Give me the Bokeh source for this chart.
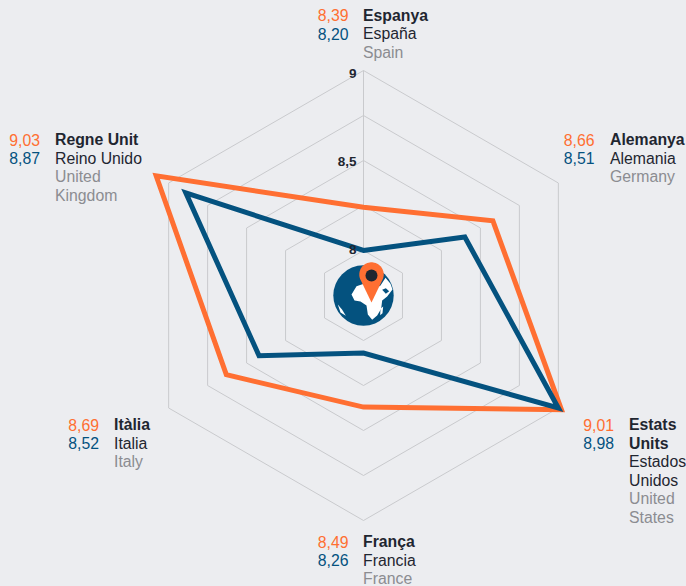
import numpy as np
from bokeh.plotting import figure
from bokeh.models import Range1d
from bokeh.core.properties import value
from bokeh.embed import file_html
from bokeh.resources import INLINE

countries_ca = ["Espanya", "Alemanya", "Estats Units", "França", "Itàlia", "Regne Unit"]
orange_labels = ["8,39", "8,66", "9,01", "8,49", "8,69", "9,03"]
blue_labels = ["8,20", "8,51", "8,98", "8,26", "8,52", "8,87"]
# positions read against the rings of the picture
orange_values = [8.24, 8.58, 9.02, 8.37, 8.63, 9.08]
blue_values = [8.00, 8.40, 9.00, 8.07, 8.42, 8.89]
ring_levels = [8, 8.25, 8.5, 8.75, 9]
tick_labels = [(8, "8"), (8.5, "8,5"), (9, "9")]

blocks = [
    (348, 362.5, 14.5, "8,39", "8,20", ["Espanya"], ["España"], ["Spain"]),
    (594, 609.5, 139, "8,66", "8,51", ["Alemanya"], ["Alemania"], ["Germany"]),
    (613.5, 628.5, 424, "9,01", "8,98", ["Estats", "Units"], ["Estados", "Unidos"], ["United", "States"]),
    (348, 362.5, 541, "8,49", "8,26", ["França"], ["Francia"], ["France"]),
    (98.5, 113.5, 424, "8,69", "8,52", ["Itàlia"], ["Italia"], ["Italy"]),
    (39.5, 54.5, 139, "9,03", "8,87", ["Regne Unit"], ["Reino Unido"], ["United", "Kingdom"]),
]

ORANGE, BLUE, DARK, GREY, RING, BG = "#ff6f32", "#04527f", "#1f2630", "#8b8c91", "#c9cacd", "#ecedf0"
CX, CY = 363.0, 295.0
FONT = value("Liberation Sans")
SIZE = "15.8px"
LINE = 18.55
angles = np.radians([90, 30, -30, -90, -150, 150])


def radius(v):
    return 45 + (np.asarray(v, dtype=float) - 8) * 180


def polar(values):
    r = radius(values)
    return list(CX + r * np.cos(angles)), list(CY - r * np.sin(angles))


p = figure(width=686, height=586, output_backend="svg", toolbar_location=None,
           x_range=Range1d(0, 686), y_range=Range1d(586, 0), min_border=0)
p.xaxis.visible = False
p.yaxis.visible = False
p.xgrid.visible = False
p.ygrid.visible = False
p.outline_line_color = None
p.background_fill_color = BG
p.border_fill_color = BG

for lv in ring_levels:
    x, y = polar([lv] * 6)
    p.patch(x, y, fill_color=None, line_color=RING, line_width=1)
xi, yi = polar([ring_levels[0]] * 6)
xo, yo = polar([ring_levels[-1]] * 6)
p.segment(xi[:1], yi[:1], xo[:1], yo[:1], line_color=RING, line_width=1)

for vals, col in ((orange_values, ORANGE), (blue_values, BLUE)):
    x, y = polar(vals)
    p.patch(x, y, fill_color=None, line_color=col, line_width=5, line_join="miter")

# ring tick labels
for lv, lab in tick_labels:
    p.text([356], [CY - 45 - (lv - 8) * 176 - 1], text=[lab], text_font=FONT, text_font_size="13.5px",
           text_font_style="bold", text_color=DARK, text_align="right", text_baseline="middle")

# text blocks
for vx, nx, y0, ov, bv, ca, es, en in blocks:
    p.text([vx], [y0], text=[ov], text_font=FONT, text_font_size=SIZE, text_color=ORANGE,
           text_align="right", text_baseline="middle")
    p.text([vx], [y0 + LINE], text=[bv], text_font=FONT, text_font_size=SIZE, text_color=BLUE,
           text_align="right", text_baseline="middle")
    row = 0
    for lines, col, style in ((ca, DARK, "bold"), (es, DARK, "normal"), (en, GREY, "normal")):
        for t in lines:
            p.text([nx], [y0 + row * LINE], text=[t], text_font=FONT, text_font_size=SIZE,
                   text_font_style=style, text_color=col, text_align="left", text_baseline="middle")
            row += 1

# globe icon
p.circle([CX], [295], radius=30.2, fill_color=BLUE, line_color=None)


def z(pts):
    a = np.array(pts, dtype=float)
    return list(a[:, 0] / 3 + 280), list(a[:, 1] / 3 + 220)


africa = [(213, 222), (228, 197), (250, 190), (275, 210), (300, 195), (315, 172), (330, 190), (336, 207),
          (320, 228), (305, 240), (302, 265), (290, 285), (275, 298), (262, 282), (258, 255), (240, 243), (222, 240)]
madagascar = [(300, 265), (308, 258), (306, 278), (299, 284)]
america = [(172, 252), (185, 268), (196, 286), (180, 276)]
arabia_gap = [(305, 208), (316, 203), (326, 212), (316, 220)]
for shape, col in ((africa, "#ffffff"), (madagascar, "#ffffff"), (america, "#ffffff"), (arabia_gap, BLUE)):
    sx, sy = z(shape)
    p.patch(sx, sy, fill_color=col, line_color=None)

# pin
hx, hy, hr, tip = 371.0, 274.0, 12.2, 302.0
t = np.radians(np.linspace(-20, 200, 40))
px = list(hx + hr * np.cos(t)) + [hx]
py = list(hy - hr * np.sin(t)) + [tip]
p.patch(px, py, fill_color=ORANGE, line_color=None)
p.circle([hx], [275], radius=6, fill_color=DARK, line_color=None)

html = file_html(p, INLINE)
html = html.replace("<head>", "<head><style>html,body{background:#ecedf0;overflow:hidden}</style>", 1)
open("out.html", "w").write(html)
